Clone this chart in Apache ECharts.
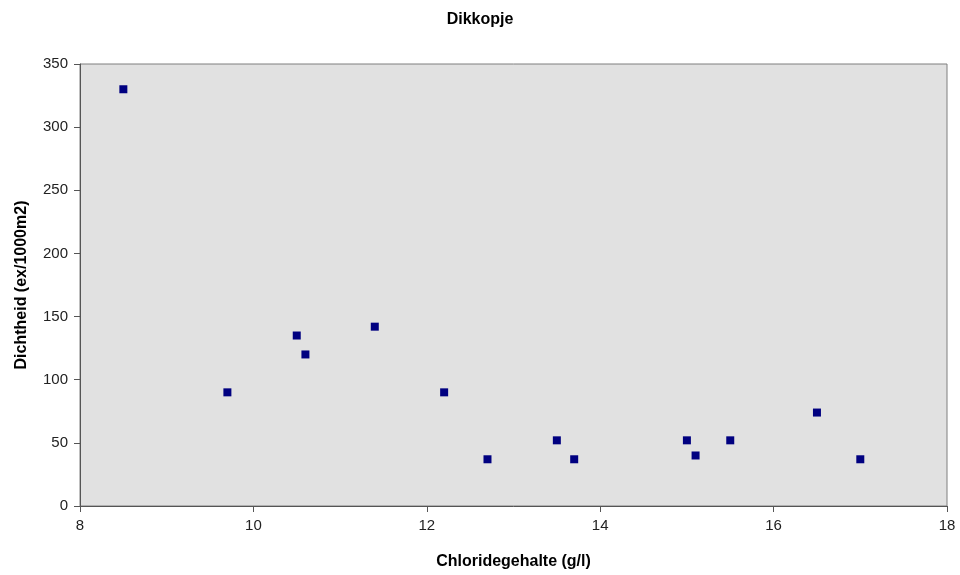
<!DOCTYPE html>
<html>
<head>
<meta charset="utf-8">
<script src="https://cdn.jsdelivr.net/npm/echarts@6/dist/echarts.min.js"></script>
<style>
  html, body { margin: 0; padding: 0; background: #fff; }
  #chart { width: 960px; height: 575px; }
</style>
</head>
<body>
<div id="chart"></div>
<script>
// chloride (g/l) and density (ex/1000m2) per sample
var chloride = [8.5, 9.7, 10.5, 10.6, 11.4, 12.2, 12.7, 13.5, 13.7, 15.0, 15.1, 15.5, 16.5, 17.0];
var density = [330, 90, 135, 120, 142, 90, 37, 52, 37, 52, 40, 52, 74, 37];

var points = chloride.map(function (c, i) { return [c, density[i]]; });

var chart = echarts.init(document.getElementById("chart"));
chart.setOption({
  animation: false,
  textStyle: { fontFamily: "Liberation Sans, Arial, sans-serif" },
  title: {
    text: "Dikkopje",
    left: "center",
    top: 7,
    textStyle: { fontSize: 16, fontWeight: "bold", color: "#000" }
  },
  grid: {
    left: 80, right: 13, top: 64, bottom: 67,
    show: true,
    backgroundColor: "#e1e1e1",
    borderColor: "#7f7f7f",
    borderWidth: 1
  },
  xAxis: {
    type: "value",
    min: 8, max: 18, interval: 2,
    name: "Chloridegehalte (g/l)",
    nameLocation: "middle",
    nameGap: 48,
    nameTextStyle: { fontSize: 16, fontWeight: "bold", color: "#000" },
    axisLine: { lineStyle: { color: "#555" } },
    axisTick: { show: true, length: 6, lineStyle: { color: "#555" } },
    axisLabel: { fontSize: 15, color: "#222", margin: 12 },
    splitLine: { show: false }
  },
  yAxis: {
    type: "value",
    min: 0, max: 350, interval: 50,
    name: "Dichtheid (ex/1000m2)",
    nameLocation: "middle",
    nameGap: 50,
    nameTextStyle: { fontSize: 16, fontWeight: "bold", color: "#000" },
    axisLine: { show: true, lineStyle: { color: "#555" } },
    axisTick: { show: true, length: 6, lineStyle: { color: "#555" } },
    axisLabel: { fontSize: 15, color: "#222", margin: 12 },
    splitLine: { show: false }
  },
  series: [{
    type: "scatter",
    data: points,
    symbol: "rect",
    symbolSize: 8,
    itemStyle: { color: "#000080", opacity: 1 }
  }]
});
</script>
</body>
</html>
